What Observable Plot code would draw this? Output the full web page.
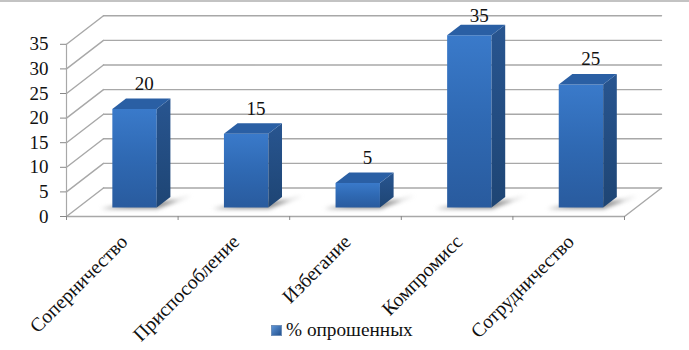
<!DOCTYPE html>
<html><head><meta charset="utf-8">
<script src="https://cdn.jsdelivr.net/npm/d3@7"></script>
<script src="https://cdn.jsdelivr.net/npm/@observablehq/plot@0.6"></script>
<style>
html,body{margin:0;padding:0;background:#fff;width:689px;height:350px;overflow:hidden}
#top{position:absolute;left:0;top:0;width:689px;height:2px;background:#c3c3c3}
svg{display:block}
svg text{font-family:"Liberation Serif","Times New Roman",serif !important}
#legend{position:absolute;left:271px;top:318px;height:24px;display:flex;align-items:center;gap:4px;font-family:"Liberation Serif","Times New Roman",serif;font-size:19.3px;color:#111;white-space:nowrap}
#legend i{display:block;width:9px;height:9px;background:linear-gradient(135deg,#5b93d6,#24528f);border:0.5px solid #6f8fb8}
</style></head><body>
<div id="top"></div>
<div id="chart"></div>
<div id="legend"><i></i><span id="lt"></span></div>
<script>
const categories = ["Соперничество","Приспособление","Избегание","Компромисс","Сотрудничество"];
const values = [20,15,5,35,25];
const yTicks = [0,5,10,15,20,25,30,35];
const xTicks = [0,1,2,3,4,5];
const seriesName = "% опрошенных";

// oblique projection of the chart's box: d is depth from front (0) to back wall (1)
const DX = 0.3315, DY = 5.79;
const P = (c, v, d, key, part) => ({x: c + d*DX, y: v + d*DY, key, part});
const barW = 0.398, d0 = 0.316, d1 = 0.685, cOff = 0.505 - barW/2;

const grid = [], side = [], front = [], top_ = [], shadow = [];
for (const v of yTicks) {
  grid.push(P(0,v,1,"b"+v), P(5,v,1,"b"+v));
  grid.push(P(0,v,0,"s"+v), P(0,v,1,"s"+v));
}
grid.push(P(0,0,0,"f"), P(5,0,0,"f"), P(5,0,1,"f"));
values.forEach((v,i) => {
  const a = i + cOff, b = a + barW;
  front.push(P(a,0,d0,i),P(b,0,d0,i),P(b,v,d0,i),P(a,v,d0,i));
  side.push(P(b,0,d0,i),P(b,0,d1,i),P(b,v,d1,i),P(b,v,d0,i));
  top_.push(P(a,v,d0,i),P(b,v,d0,i),P(b,v,d1,i),P(a,v,d1,i));
  shadow.push(P(a-0.09,0,d0-0.04,i),P(b+0.02,0,d0-0.04,i),P(b+0.17,0,d1+0.05,i),P(b+0.1,0,d1-0.1,i),P(a+0.1,0,d0+0.12,i));
});
const labels = values.map((v,i) => {
  const p = P(i+cOff+barW/2,v,(d0+d1)/2);
  return {...p, y: Math.min(p.y, 36.7), v};
});
const catLabels = categories.map((c,i) => ({x:i+0.5, y:0, c}));

const W = 689, H = 318;
const defs = () => {
  const s = d3.create("svg:g");
  const d = s.append("defs");
  const g = (id,stops) => {
    const lg = d.append("linearGradient").attr("id",id).attr("x1",0).attr("y1",0).attr("x2",0).attr("y2",1);
    stops.forEach(([o,c]) => lg.append("stop").attr("offset",o).attr("stop-color",c));
  };
  g("frontG",[[0,"#3a7aca"],[0.5,"#2f69b3"],[1,"#295b9e"]]);
  g("sideG",[[0,"#285590"],[1,"#1e4574"]]);
  return s.node();
};
const chart = Plot.plot({
  width: W, height: H,
  marginLeft: 66, marginRight: 65, marginTop: 43.8, marginBottom: H-216,
  x: {type:"linear", domain:[0,5], axis:null},
  y: {type:"linear", domain:[0,35], axis:null},
  style: {background:"transparent", overflow:"visible"},
  marks: [
    defs,
    Plot.line(grid,{x:"x",y:"y",z:"key",stroke:"#a8a8a8",strokeWidth:1.4,curve:"linear"}),
    Plot.ruleX([0],{y1:0,y2:35,stroke:"#a8a8a8",strokeWidth:1.2}),
    Plot.axisY({ticks:yTicks,tickSize:6,tickPadding:12,fontSize:19,stroke:"#888",strokeWidth:1,fill:"#111",label:null,tickFormat:d=>d}),
    Plot.axisX({ticks:xTicks,tickSize:4,tickPadding:0,stroke:"#888",strokeWidth:1,label:null,tickFormat:()=>""}),
    Plot.line(shadow,{x:"x",y:"y",z:"key",fill:"#8f8f8f",stroke:null,curve:"linear",imageFilter:"blur(2px)"}),
    Plot.line(front,{x:"x",y:"y",z:"key",fill:"url(#frontG)",stroke:null,curve:"linear"}),
    Plot.line(side,{x:"x",y:"y",z:"key",fill:"url(#sideG)",stroke:null,curve:"linear"}),
    Plot.line(top_,{x:"x",y:"y",z:"key",fill:"#2a5fa4",stroke:null,curve:"linear"}),
    Plot.text(labels,{x:"x",y:"y",text:"v",dy:-20,dx:3,fontSize:19,fill:"#111"}),
    Plot.text(catLabels,{x:"x",y:"y",text:"c",rotate:-45,textAnchor:"end",lineAnchor:"middle",dx:2,dy:22,fontSize:19.7,fill:"#111"})
  ]
});
document.getElementById("chart").append(chart);
document.getElementById("lt").textContent = seriesName;
</script></body></html>
